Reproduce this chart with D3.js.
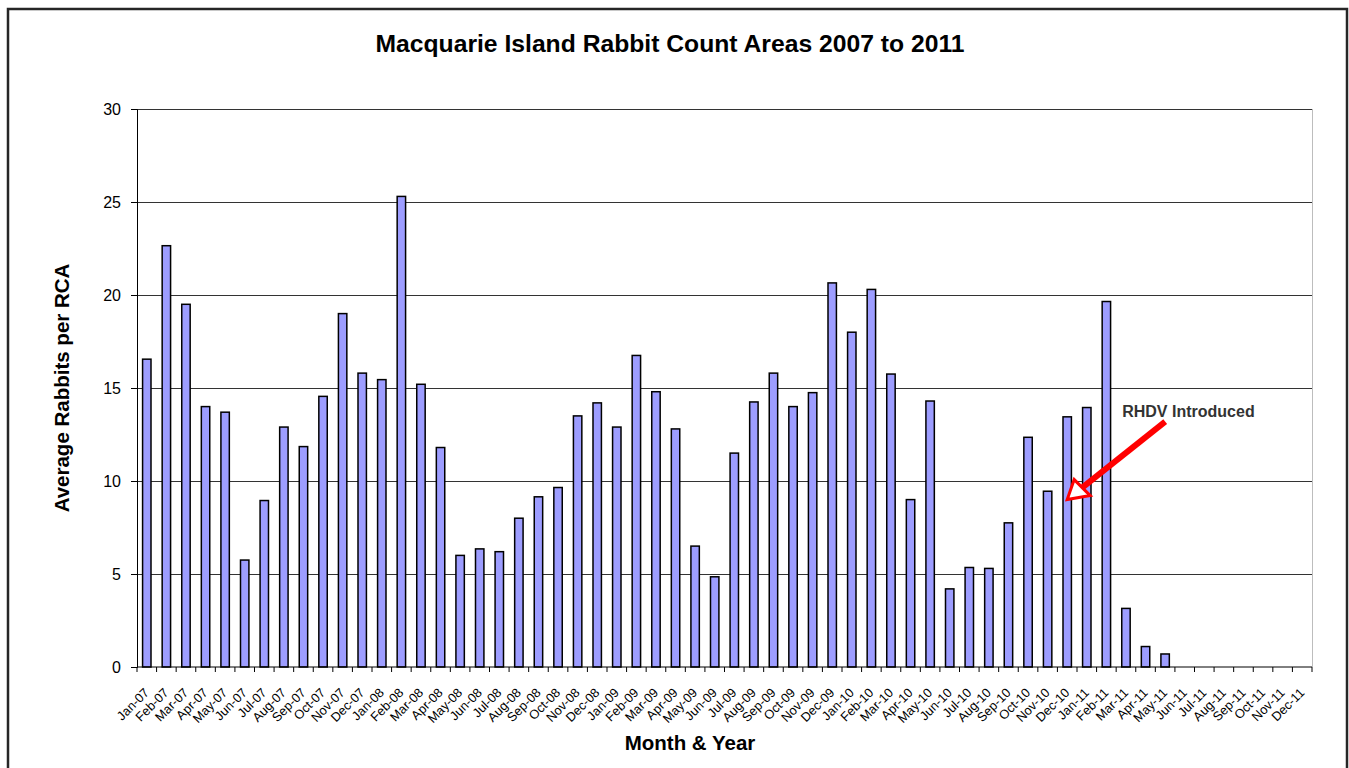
<!DOCTYPE html>
<html>
<head>
<meta charset="utf-8">
<script src="https://cdn.jsdelivr.net/npm/d3@7"></script>
<style>
    body { margin: 0; background: #fff; }
    svg { display: block; font-family: Arial, 'Liberation Sans', sans-serif; }
</style>
</head>
<body>
<svg id="chart"></svg>
<script>
// chart values
const monthLabels = [
    'Jan-07', 'Feb-07', 'Mar-07', 'Apr-07', 'May-07', 'Jun-07', 'Jul-07', 'Aug-07', 'Sep-07', 'Oct-07', 'Nov-07', 'Dec-07',
    'Jan-08', 'Feb-08', 'Mar-08', 'Apr-08', 'May-08', 'Jun-08', 'Jul-08', 'Aug-08', 'Sep-08', 'Oct-08', 'Nov-08', 'Dec-08',
    'Jan-09', 'Feb-09', 'Mar-09', 'Apr-09', 'May-09', 'Jun-09', 'Jul-09', 'Aug-09', 'Sep-09', 'Oct-09', 'Nov-09', 'Dec-09',
    'Jan-10', 'Feb-10', 'Mar-10', 'Apr-10', 'May-10', 'Jun-10', 'Jul-10', 'Aug-10', 'Sep-10', 'Oct-10', 'Nov-10', 'Dec-10',
    'Jan-11', 'Feb-11', 'Mar-11', 'Apr-11', 'May-11', 'Jun-11', 'Jul-11', 'Aug-11', 'Sep-11', 'Oct-11', 'Nov-11', 'Dec-11'
]

const rabbitCounts = [
    16.55, 22.65, 19.5, 14.0, 13.7, 5.75, 8.95, 12.9, 11.85, 14.55, 19.0, 15.8,
    15.45, 25.3, 15.2, 11.8, 6.0, 6.35, 6.2, 8.0, 9.15, 9.65, 13.5, 14.2,
    12.9, 16.75, 14.8, 12.8, 6.5, 4.85, 11.5, 14.25, 15.8, 14.0, 14.75, 20.65,
    18.0, 20.3, 15.75, 9.0, 14.3, 4.2, 5.35, 5.3, 7.75, 12.35, 9.45, 13.45,
    13.95, 19.65, 3.15, 1.1, 0.7, null, null, null, null, null, null, null
]

const yTicks = [0, 5, 10, 15, 20, 25, 30]

const chartTitle = 'Macquarie Island Rabbit Count Areas 2007 to 2011'
const xTitle = 'Month & Year'
const yTitle = 'Average Rabbits per RCA'

const annotationLabel = 'RHDV Introduced'
const annotationMonth = 'Dec-10'
const annotationValue = 9

const WIDTH = 1349, HEIGHT = 768
const margin = { top: 109, left: 137, right: 37, bottom: 101 }
const plotW = WIDTH - margin.left - margin.right
const plotH = HEIGHT - margin.top - margin.bottom

const svg = d3.select('#chart')
    .attr('width', WIDTH)
    .attr('height', HEIGHT)

// outer frame (bottom edge runs off the page)
svg.append('rect')
    .attr('x', 8).attr('y', 9)
    .attr('width', 1339).attr('height', 800)
    .attr('fill', '#fff')
    .attr('stroke', '#262626')
    .attr('stroke-width', 2.5)

const data = monthLabels.map((m, i) => ({ month: m, value: rabbitCounts[i] }))

const x = d3.scaleBand()
    .domain(monthLabels)
    .range([0, plotW])
    .paddingInner(0.57)
    .paddingOuter(0.285)

const y = d3.scaleLinear()
    .domain([0, 30])
    .range([plotH, 0])

const g = svg.append('g')
    .attr('transform', `translate(${margin.left},${margin.top})`)

// gridlines
g.append('g')
    .selectAll('line')
    .data(yTicks.filter(t => t > 0)).enter()
    .append('line')
    .attr('x1', 0).attr('x2', plotW)
    .attr('y1', d => Math.round(y(d)) + 0.5)
    .attr('y2', d => Math.round(y(d)) + 0.5)
    .attr('stroke', '#333')
    .attr('stroke-width', 1.2)

// right edge of plot area
g.append('line')
    .attr('x1', plotW + 0.5).attr('x2', plotW + 0.5)
    .attr('y1', 0).attr('y2', plotH)
    .attr('stroke', '#bdbdbd')

// bars
g.append('g')
    .selectAll('rect')
    .data(data.filter(d => d.value !== null)).enter()
    .append('rect')
    .attr('x', d => x(d.month))
    .attr('y', d => y(d.value))
    .attr('width', x.bandwidth())
    .attr('height', d => plotH - y(d.value))
    .attr('fill', '#9d9dff')
    .attr('stroke', '#000')
    .attr('stroke-width', 1.5)

// y axis
const yAxis = g.append('g')
    .call(d3.axisLeft(y).tickValues(yTicks).tickSize(6).tickPadding(10))
yAxis.select('.domain').attr('stroke', '#000')
yAxis.selectAll('.tick line').attr('stroke', '#000')
yAxis.selectAll('.tick text')
    .attr('font-size', 16)
    .attr('font-family', 'Arial, Liberation Sans, sans-serif')
    .attr('fill', '#000')

// x axis: ticks sit between the categories
const step = x.step()
const xAxis = g.append('g')
    .attr('transform', `translate(0,${plotH})`)
xAxis.append('line')
    .attr('x1', 0).attr('x2', plotW)
    .attr('y1', 0).attr('y2', 0)
    .attr('stroke', '#000')
xAxis.selectAll('line.tick')
    .data(d3.range(monthLabels.length + 1)).enter()
    .append('line')
    .attr('class', 'tick')
    .attr('x1', i => i * step).attr('x2', i => i * step)
    .attr('y1', 0).attr('y2', 5)
    .attr('stroke', '#000')
xAxis.selectAll('text')
    .data(monthLabels).enter()
    .append('text')
    .attr('transform', m => `translate(${x(m) + x.bandwidth() / 2 + 3},26.5) rotate(-45)`)
    .attr('text-anchor', 'end')
    .attr('font-size', 12.8)
    .attr('fill', '#000')
    .text(m => m)

// titles
svg.append('text')
    .attr('x', 670).attr('y', 52)
    .attr('text-anchor', 'middle')
    .attr('font-size', 24.7)
    .attr('font-weight', 'bold')
    .text(chartTitle)

svg.append('text')
    .attr('x', 690).attr('y', 750)
    .attr('text-anchor', 'middle')
    .attr('font-size', 20.5)
    .attr('font-weight', 'bold')
    .text(xTitle)

svg.append('text')
    .attr('transform', `translate(69,${margin.top + plotH / 2}) rotate(-90)`)
    .attr('text-anchor', 'middle')
    .attr('font-size', 20.5)
    .attr('font-weight', 'bold')
    .text(yTitle)

// RHDV annotation, arrow tip placed on the Dec-10 bar
const tipX = margin.left + x(annotationMonth) + x.bandwidth() / 2
const tipY = margin.top + y(annotationValue)
const ann = svg.append('g')
    .attr('transform', `translate(${tipX},${tipY})`)

ann.append('line')
    .attr('x1', 98).attr('y1', -78)
    .attr('x2', 15).attr('y2', -12)
    .attr('stroke', '#ff0000')
    .attr('stroke-width', 6)

ann.append('path')
    .attr('d', 'M0,0 L7,-20 L23,-4 Z')
    .attr('fill', '#fff')
    .attr('stroke', '#ff0000')
    .attr('stroke-width', 3)
    .attr('stroke-linejoin', 'miter')

ann.append('text')
    .attr('x', 55).attr('y', -83)
    .attr('font-size', 16)
    .attr('font-weight', 'bold')
    .attr('fill', '#333')
    .text(annotationLabel)
</script>
</body>
</html>
